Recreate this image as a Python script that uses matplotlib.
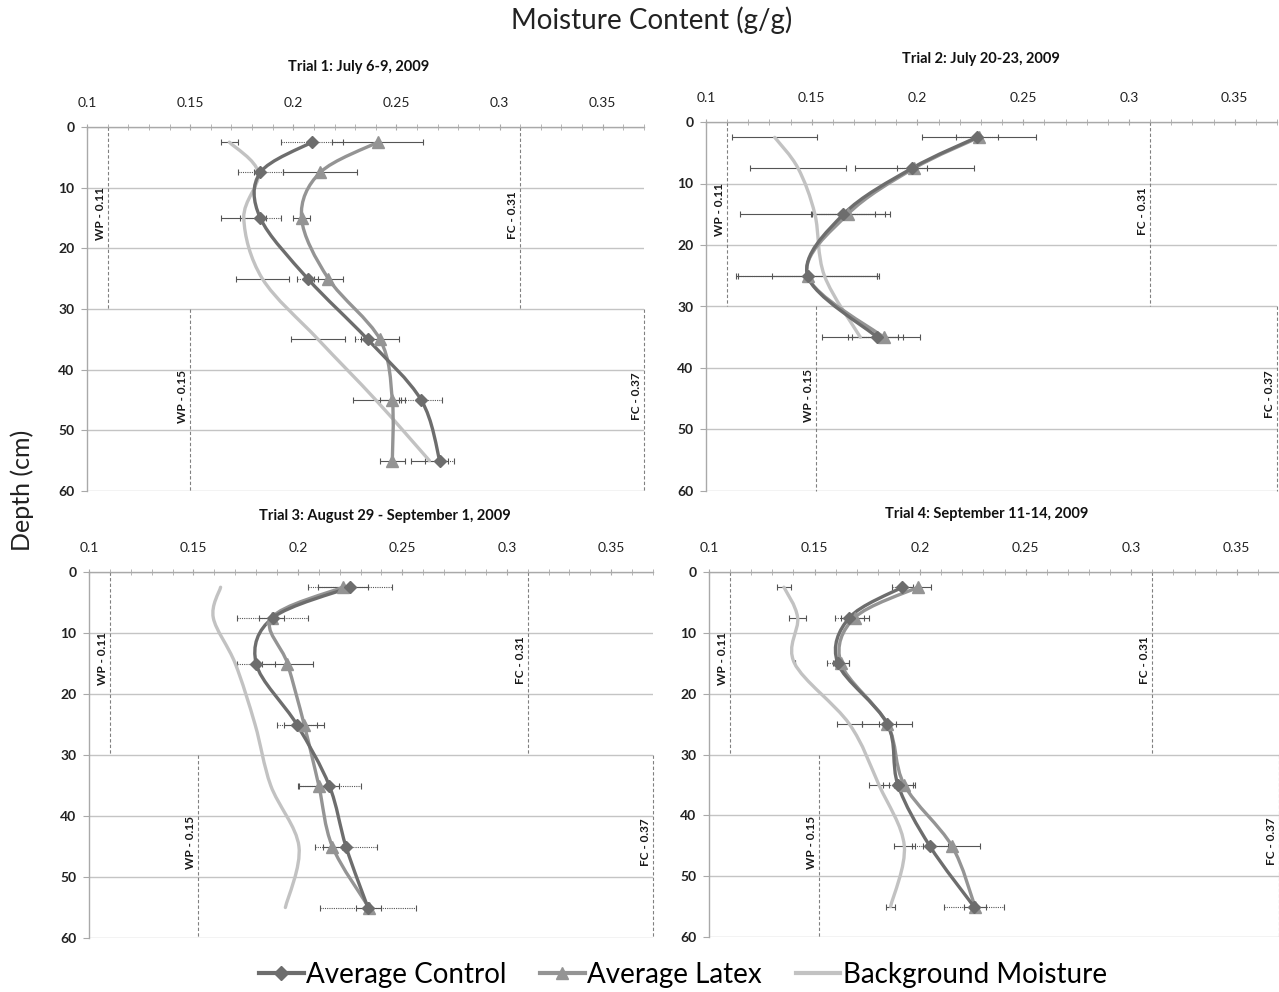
"""
Soil moisture profiles for the four latex trials (2009).
Each panel: moisture content (g/g) vs depth (cm), smoothed lines like the
original Excel figure, with wilting point / field capacity markers.
"""

import matplotlib.pyplot as plt
import matplotlib.ticker as ticker
import numpy as np
from matplotlib.lines import Line2D
from matplotlib.patches import PathPatch
from matplotlib.path import Path

plt.rcParams["font.family"] = ["Lato", "DejaVu Sans"]

# ---- data ---------------------------------------------------------------
depth = [2.5, 7.5, 15, 25, 35, 45, 55]
depth_t2 = [2.5, 7.5, 15, 25, 35]

titles = [
    "Trial 1: July 6-9, 2009",
    "Trial 2: July 20-23, 2009",
    "Trial 3: August 29 - September 1, 2009",
    "Trial 4: September 11-14, 2009",
]

t1_control = [0.209, 0.184, 0.184, 0.207, 0.236, 0.262, 0.271]
t1_control_err = [0.015, 0.011, 0.010, 0.005, 0.006, 0.010, 0.007]
t1_latex = [0.241, 0.213, 0.204, 0.217, 0.242, 0.248, 0.248]
t1_latex_err = [0.022, 0.018, 0.004, 0.007, 0.009, 0.006, 0.006]
t1_background = [0.169, 0.183, 0.176, 0.185, 0.212, 0.240, 0.266]
t1_background_err = [0.004, 0.002, 0.011, 0.013, 0.013, 0.011, 0.009]

t2_control = [0.228, 0.1975, 0.165, 0.148, 0.181]
t2_control_err = [0.010, 0.007, 0.015, 0.033, 0.012]
t2_latex = [0.229, 0.1985, 0.167, 0.148, 0.184]
t2_latex_err = [0.027, 0.028, 0.0175, 0.034, 0.017]
t2_background = [0.1325, 0.1435, 0.1515, 0.156, 0.173]
t2_background_err = [0.020, 0.0225, 0.0355, 0.025, 0.018]

t3_control = [0.225, 0.188, 0.180, 0.1995, 0.215, 0.223, 0.2335]
t3_control_err = [0.020, 0.017, 0.009, 0.0095, 0.015, 0.015, 0.023]
t3_latex = [0.2215, 0.1875, 0.195, 0.203, 0.210, 0.2165, 0.234]
t3_latex_err = [0.012, 0.006, 0.012, 0.0095, 0.0095, 0.0045, 0.006]
t3_background = [0.163, 0.1595, 0.170, 0.1795, 0.187, 0.2005, 0.194]
t3_background_err = [0, 0, 0, 0, 0, 0, 0]

t4_control = [0.1915, 0.1665, 0.161, 0.1845, 0.1895, 0.2045, 0.2255]
t4_control_err = [0.005, 0.007, 0.0053, 0.004, 0.0072, 0.0085, 0.014]
t4_latex = [0.199, 0.169, 0.1625, 0.1845, 0.1925, 0.215, 0.226]
t4_latex_err = [0.006, 0.0067, 0.004, 0.0118, 0.005, 0.0135, 0.005]
t4_background = [0.1355, 0.142, 0.1405, 0.1665, 0.1805, 0.1925, 0.186]
t4_background_err = [0.0035, 0.004, 0, 0.0058, 0.0048, 0.005, 0.002]

# wilting point / field capacity for the upper (0-30) and lower (30-60) layer
wp_upper = [0.11, 0.11, 0.11, 0.11]
fc_upper = [0.31, 0.31, 0.31, 0.31]
wp_lower = [0.15, 0.152, 0.152, 0.152]
fc_lower = [0.37, 0.37, 0.37, 0.37]
layer_split = 30

x_ticks = [0.1, 0.15, 0.2, 0.25, 0.3, 0.35]
x_tick_labels = ["0.1", "0.15", "0.2", "0.25", "0.3", "0.35"]
y_ticks = [0, 10, 20, 30, 40, 50, 60]

# ---- styling ----------------------------------------------------------------
C_CONTROL = "#6d6d6d"
C_LATEX = "#949494"
C_BACK = "#c2c2c2"
C_GRID = "#c4c4c4"
C_AXIS = "#a9a9a9"
C_REF = "#808080"

W, H = 1279, 992
# axes boxes in pixels: left, top, right, bottom
boxes = [
    (87, 127, 644, 491),
    (706, 122, 1277, 491),
    (89, 572, 653, 938),
    (709, 572, 1279, 937),
]
title_pos = [(0.487, 1.165), (0.482, 1.171), (0.525, 1.153), (0.488, 1.158)]


def smooth_path(xs, ys):
    """Bezier path through the points, same idea as Excel's smoothed line."""
    pts = np.column_stack([xs, ys]).astype(float)
    n = len(pts)
    verts = [pts[0]]
    codes = [Path.MOVETO]
    for i in range(n - 1):
        p0 = pts[max(i - 1, 0)]
        p1 = pts[i]
        p2 = pts[i + 1]
        p3 = pts[min(i + 2, n - 1)]
        verts += [p1 + (p2 - p0) / 6, p2 - (p3 - p1) / 6, p2]
        codes += [Path.CURVE4] * 3
    return Path(verts, codes)


def draw_series(ax, xs, ys, err, color, marker, msize, dotted):
    if any(e > 0 for e in err):
        eb = ax.errorbar(xs, ys, xerr=err, fmt="none", ecolor="#555555",
                         elinewidth=0.8, capsize=2, capthick=0.8, zorder=2)
        if dotted:
            eb[2][0].set_linestyle((0, (1, 1)))
    ax.add_patch(PathPatch(smooth_path(xs, ys), facecolor="none",
                           edgecolor=color, lw=2.4, capstyle="round",
                           joinstyle="round", zorder=3))
    if marker:
        ax.plot(xs, ys, linestyle="none", marker=marker, markersize=msize,
                color=color, zorder=4)


panels = [
    (depth, t1_control, t1_control_err, t1_latex, t1_latex_err,
     depth, t1_background, t1_background_err),
    (depth_t2, t2_control, t2_control_err, t2_latex, t2_latex_err,
     depth_t2, t2_background, t2_background_err),
    (depth, t3_control, t3_control_err, t3_latex, t3_latex_err,
     depth, t3_background, t3_background_err),
    (depth, t4_control, t4_control_err, t4_latex, t4_latex_err,
     depth, t4_background, t4_background_err),
]

fig = plt.figure(figsize=(W / 100, H / 100), dpi=100)

for i, (d, ctl, ctl_e, lat, lat_e, bd, bg, bg_e) in enumerate(panels):
    l, t, r, b = boxes[i]
    ax = fig.add_axes([l / W, 1 - b / H, (r - l) / W, (b - t) / H])
    ax.set_xlim(0.1, 0.37)
    ax.set_ylim(60, 0)

    ax.xaxis.tick_top()
    ax.set_xticks(x_ticks)
    ax.set_xticklabels(x_tick_labels)
    ax.xaxis.set_minor_locator(ticker.MultipleLocator(0.01))
    ax.tick_params(axis="x", which="both", direction="inout", length=4,
                   color=C_AXIS, labelsize=10, pad=11, labelcolor="#222222")
    ax.set_yticks(y_ticks)
    ax.tick_params(axis="y", direction="out", length=4, color=C_AXIS,
                   labelsize=10, pad=5, labelcolor="#222222")
    for lab in ax.get_yticklabels():
        lab.set_fontweight("bold")

    for side in ("right", "bottom"):
        ax.spines[side].set_visible(False)
    for side in ("top", "left"):
        ax.spines[side].set_color(C_AXIS)
        ax.spines[side].set_linewidth(1)
    ax.grid(axis="y", color=C_GRID, lw=1)
    ax.set_axisbelow(True)

    # wilting point / field capacity reference lines
    ref = [
        (wp_upper[i], 0, layer_split, "WP - %.2f" % wp_upper[i], 14.2),
        (fc_upper[i], 0, layer_split, "FC - %.2f" % fc_upper[i], 14.5),
        (wp_lower[i], layer_split, 60, "WP - %.2f" % round(wp_lower[i], 2), 44.4),
        (fc_lower[i], layer_split, 60, "FC - %.2f" % fc_lower[i], 44.3),
    ]
    for xv, y0, y1, txt, yc in ref:
        ax.vlines(xv, y0, y1, colors=C_REF, lw=0.8, linestyles=(0, (3, 2)),
                  zorder=1, clip_on=False)
        ax.annotate(txt, (xv, yc), xytext=(-1.5, 0), textcoords="offset points",
                    rotation=90, ha="right", va="center", fontsize=8.5,
                    fontweight="bold", color="#1a1a1a")

    draw_series(ax, bg, bd, bg_e, C_BACK, None, 0, False)
    draw_series(ax, lat, d, lat_e, C_LATEX, "^", 8.5, False)
    draw_series(ax, ctl, d, ctl_e, C_CONTROL, "D", 6, True)

    tx, ty = title_pos[i]
    ax.text(tx, ty, titles[i], transform=ax.transAxes, ha="center",
            va="center", fontsize=10.5, fontweight="bold", color="#111111")

fig.text(652 / W, 1 - 20 / H, "Moisture Content (g/g)", ha="center",
         va="center", fontsize=20, color="#222222")
fig.text(22 / W, 1 - 490 / H, "Depth (cm)", ha="center", va="center",
         rotation=90, fontsize=18, color="#222222")

handles = [
    Line2D([], [], color=C_CONTROL, lw=3, marker="D", markersize=7),
    Line2D([], [], color=C_LATEX, lw=3, marker="^", markersize=9),
    Line2D([], [], color=C_BACK, lw=3),
]
fig.legend(handles, ["Average Control", "Average Latex", "Background Moisture"],
           loc="center", bbox_to_anchor=(683 / W, 1 - 975 / H), ncol=3,
           frameon=False, fontsize=20, handlelength=1.6, handletextpad=0.1,
           columnspacing=1.2, borderpad=0)

fig.savefig("out.png", dpi=100)
